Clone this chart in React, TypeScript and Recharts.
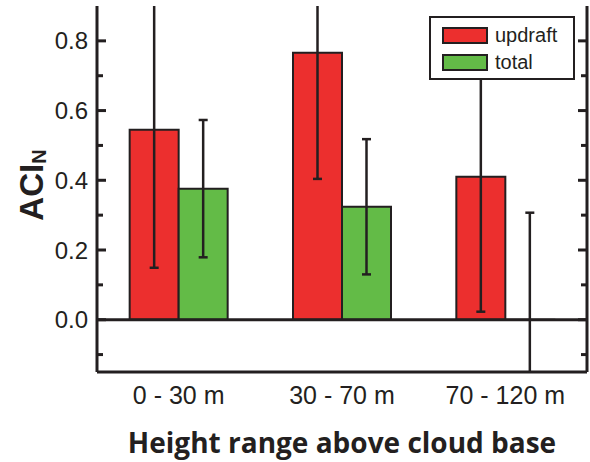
import React from 'react';
import { ComposedChart, Bar, XAxis, YAxis, ErrorBar, ReferenceLine, Legend } from 'recharts';

const categories = ['0 - 30 m', '30 - 70 m', '70 - 120 m'];
const updraft = [0.545, 0.766, 0.41];
const updraftErr = [0.396, 0.362, 0.387];
const total = [0.376, 0.324, -0.001];
const totalErr = [0.197, 0.194, 0.308];
const yTicks = [-0.1, 0, 0.1, 0.2, 0.3, 0.4, 0.5, 0.6, 0.7, 0.8];

const INK = '#231f20';
const RED = '#ec2f2e';
const GREEN = '#63bb47';

const data = categories.map((name, i) => ({
  name,
  updraft: updraft[i],
  updraftErr: updraftErr[i],
  total: total[i],
  totalErr: totalErr[i],
}));

const isMajor = (v: number) => Math.round(v * 10) % 2 === 0;

// ticks point into the plot; labels only on the left
const LeftTick = (props: any) => {
  const { x, y, payload } = props;
  const major = isMajor(payload.value);
  return (
    <g>
      <line x1={x} x2={x + (major ? 9 : 6)} y1={y} y2={y} stroke={INK} strokeWidth={3} />
      {major && (
        <text x={x - 9} y={y} dy="0.36em" textAnchor="end" fontSize={24} fill={INK}>
          {payload.value.toFixed(1)}
        </text>
      )}
    </g>
  );
};

const RightTick = (props: any) => {
  const { x, y, payload } = props;
  const major = isMajor(payload.value);
  return <line x1={x} x2={x - (major ? 9 : 6)} y1={y} y2={y} stroke={INK} strokeWidth={3} />;
};

const YTitle = (props: any) => {
  const { viewBox } = props;
  const cy = viewBox.y + viewBox.height / 2 - 4;
  const x = 43;
  return (
    <text
      x={x}
      y={cy}
      transform={`rotate(-90 ${x} ${cy})`}
      textAnchor="middle"
      fontWeight="bold"
      fontSize={33}
      fill={INK}
    >
      ACI
      <tspan fontSize={20} dy={3}>N</tspan>
    </text>
  );
};

const LegendBox = () => (
  <div style={{ padding: '4px 0 0 11px', boxSizing: 'border-box' }}>
    {[
      { label: 'updraft', color: RED },
      { label: 'total', color: GREEN },
    ].map((it) => (
      <div key={it.label} style={{ display: 'flex', alignItems: 'center', height: 27 }}>
        <span
          style={{
            width: 42,
            height: 13,
            background: it.color,
            border: `2.5px solid ${INK}`,
            marginRight: 7,
          }}
        />
        <span style={{ fontSize: 20, color: INK }}>{it.label}</span>
      </div>
    ))}
  </div>
);

export default function App() {
  return (
    <div
      style={{
        position: 'absolute',
        left: 0,
        top: 0,
        width: 590,
        height: 462,
        background: '#fff',
        fontFamily: '"Liberation Sans", Arial, sans-serif',
      }}
    >
      <ComposedChart
        width={590}
        height={462}
        data={data}
        margin={{ top: 6, right: 0, bottom: 0, left: 0 }}
        barCategoryGap="20%"
        barGap={0}
      >
        <XAxis
          dataKey="name"
          height={90}
          tickLine={false}
          tickSize={0}
          tickMargin={14}
          axisLine={{ stroke: INK, strokeWidth: 3 }}
          tick={{ fill: INK, fontSize: 25 }}
          label={{
            value: 'Height range above cloud base',
            position: 'insideBottom',
            offset: 9,
            fill: INK,
            fontSize: 28,
            fontWeight: 'bold',
            fontFamily: '"Open Sans", sans-serif',
          }}
        />
        <XAxis
          xAxisId="top"
          dataKey="name"
          orientation="top"
          height={0}
          tick={false}
          tickLine={false}
          axisLine={{ stroke: INK, strokeWidth: 3 }}
        />
        <YAxis
          width={97}
          domain={[-0.15, 0.9]}
          ticks={yTicks}
          allowDataOverflow
          tickLine={false}
          tickSize={0}
          tickMargin={0}
          interval={0}
          tick={<LeftTick />}
          axisLine={{ stroke: INK, strokeWidth: 3 }}
          label={{ content: <YTitle /> }}
        />
        <YAxis
          yAxisId="right"
          orientation="right"
          width={3}
          domain={[-0.15, 0.9]}
          ticks={yTicks}
          allowDataOverflow
          tickLine={false}
          tickSize={0}
          tickMargin={0}
          interval={0}
          tick={<RightTick />}
          axisLine={{ stroke: INK, strokeWidth: 3 }}
        />
        <Legend
          layout="vertical"
          align="center"
          verticalAlign="middle"
          content={<LegendBox />}
          wrapperStyle={{
            left: 429,
            top: 16,
            width: 146,
            height: 64,
            border: `2.5px solid ${INK}`,
            background: '#fff',
            boxSizing: 'border-box',
          }}
        />
        <Bar
          id="upd"
          dataKey="updraft"
          name="updraft"
          fill={RED}
          stroke={INK}
          strokeWidth={2}
          isAnimationActive={false}
        >
          <ErrorBar
            dataKey="updraftErr"
            width={4.5}
            stroke={INK}
            strokeWidth={2.5}
            clipPath="url(#clipPath-upd)"
            isAnimationActive={false}
          />
        </Bar>
        <Bar
          id="tot"
          dataKey="total"
          name="total"
          fill={GREEN}
          stroke={INK}
          strokeWidth={2}
          isAnimationActive={false}
        >
          <ErrorBar
            dataKey="totalErr"
            width={4.5}
            stroke={INK}
            strokeWidth={2.5}
            clipPath="url(#clipPath-tot)"
            isAnimationActive={false}
          />
        </Bar>
        <ReferenceLine y={0} stroke={INK} strokeWidth={3} />
      </ComposedChart>
    </div>
  );
}
